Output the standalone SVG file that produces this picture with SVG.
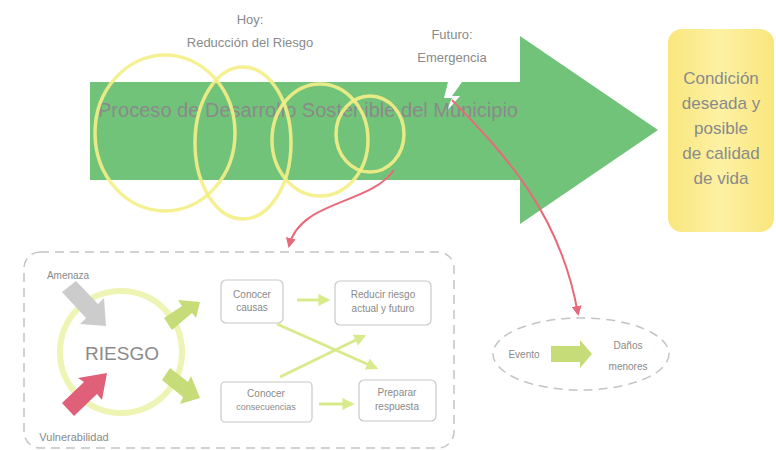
<svg xmlns="http://www.w3.org/2000/svg" width="776" height="450" viewBox="0 0 776 450">
<defs>
<style>
.t{font-family:"Liberation Sans",Arial,sans-serif;fill:#8a8a8a;text-anchor:middle}
.box{fill:#fff;stroke:#c8c8c8;stroke-width:1.2}
.ring{fill:none;stroke:#f4ee86;stroke-width:3.5;opacity:.9}
.red{fill:none;stroke:#e86a7a;stroke-width:2}
.ga{fill:none;stroke:#d8ea8c;stroke-width:3}
.dash{fill:none;stroke:#c4c4c4;stroke-width:1.5;stroke-dasharray:9 6}
</style>
<marker id="ra" viewBox="0 0 10 10" refX="8" refY="5" markerWidth="5" markerHeight="5" orient="auto"><path d="M0,0 L10,5 L0,10 z" fill="#e86a7a"/></marker>
<marker id="ga" viewBox="0 0 10 10" refX="8" refY="5" markerWidth="4" markerHeight="4" orient="auto"><path d="M0,0 L10,5 L0,10 z" fill="#d8ea8c"/></marker>
<linearGradient id="yg" x1="0" y1="0" x2="1" y2="0"><stop offset="0" stop-color="#f9e67c"/><stop offset="0.5" stop-color="#fdf1a4"/><stop offset="1" stop-color="#f9e67c"/></linearGradient>
</defs>
<rect width="776" height="450" fill="#fff"/>

<g id="process-arrow">
<path d="M90,82 L520,82 L520,36 L658,130 L520,224 L520,180 L90,180 Z" fill="#72c37a"/>
<path d="M448,82 L462,82 L452,96 L460,96 L446,112 L452,98 L444,98 Z" fill="#fff"/>
<text class="t" x="308" y="117" font-size="20" textLength="420" lengthAdjust="spacingAndGlyphs" fill="#777">Proceso de Desarrollo Sostenible del Municipio</text>
</g>

<g id="rings">
<ellipse class="ring" cx="165" cy="133" rx="70" ry="78"/>
<ellipse class="ring" cx="243" cy="143" rx="48" ry="76"/>
<ellipse class="ring" cx="320" cy="140" rx="48" ry="56"/>
<ellipse class="ring" cx="370" cy="134" rx="34" ry="38"/>
</g>

<g id="label-hoy">
<text class="t" x="250" y="24" font-size="13">Hoy:</text>
<text class="t" x="250" y="47" font-size="13">Reducción del Riesgo</text>
</g>
<g id="label-futuro">
<text class="t" x="452" y="39" font-size="13">Futuro:</text>
<text class="t" x="452" y="62" font-size="13">Emergencia</text>
</g>

<g id="goal">
<rect x="668" y="29" width="106" height="203" rx="14" fill="url(#yg)"/>
<text class="t" x="721" y="84" font-size="17" fill="#858575">Condición</text>
<text class="t" x="721" y="109" font-size="17" fill="#858575">deseada y</text>
<text class="t" x="721" y="134" font-size="17" fill="#858575">posible</text>
<text class="t" x="721" y="159" font-size="17" fill="#858575">de calidad</text>
<text class="t" x="721" y="184" font-size="17" fill="#858575">de vida</text>
</g>

<g id="risk-panel">
<rect class="dash" x="24" y="252" width="430" height="196" rx="16"/>
<circle cx="121" cy="352" r="61" fill="none" stroke="#eef4b4" stroke-width="6"/>
<text class="t" x="122" y="360" font-size="19" fill="#888">RIESGO</text>
<text class="t" x="68" y="279" font-size="10">Amenaza</text>
<text class="t" x="74" y="441" font-size="11">Vulnerabilidad</text>
<path d="M62,292 L76,281 L98,304 L104,298 L106,326 L80,324 L86,318 Z" fill="#cccccc"/>
<path d="M62,403 L84,382 L78,378 L107,373 L102,400 L97,394 L74,416 Z" fill="#e0607a"/>
<path d="M164,318 L182,306 L178,300 L200,302 L196,318 L192,313 L172,330 Z" fill="#c6dc78"/>
<path d="M162,380 L170,368 L188,382 L191,376 L200,398 L180,404 L183,397 Z" fill="#c6dc78"/>
</g>

<g id="conocer-causas">
<rect class="box" x="221" y="280" width="62" height="43" rx="5"/>
<text class="t" x="252" y="298" font-size="10">Conocer</text>
<text class="t" x="252" y="311" font-size="10">causas</text>
</g>
<g id="reducir">
<rect class="box" x="335" y="281" width="96" height="44" rx="5"/>
<text class="t" x="383" y="298" font-size="10">Reducir riesgo</text>
<text class="t" x="383" y="312" font-size="10">actual y futuro</text>
</g>
<g id="conocer-consecuencias">
<rect class="box" x="221" y="382" width="91" height="40" rx="4"/>
<text class="t" x="266" y="397" font-size="10">Conocer</text>
<text class="t" x="266" y="410" font-size="9">consecuencias</text>
</g>
<g id="preparar">
<rect class="box" x="359" y="380" width="77" height="41" rx="5"/>
<text class="t" x="397" y="396" font-size="10">Preparar</text>
<text class="t" x="397" y="410" font-size="10">respuesta</text>
</g>

<g id="evento-panel">
<ellipse class="dash" cx="581" cy="354" rx="88" ry="36"/>
<text class="t" x="524" y="358" font-size="10">Evento</text>
<text class="t" x="628" y="349" font-size="10">Daños</text>
<text class="t" x="628" y="370" font-size="10">menores</text>
<path d="M551,346 L580,346 L580,340 L592,354 L580,368 L580,362 L551,362 Z" fill="#c6dc78"/>
</g>

<g id="connectors">
<path class="red" d="M452,100 C500,150 560,210 578,314" marker-end="url(#ra)"/>
<path class="red" d="M394,170 C370,205 300,200 289,246" marker-end="url(#ra)"/>
<path class="ga" d="M297,300 L328,300" marker-end="url(#ga)"/>
<path class="ga" d="M319,404 L352,404" marker-end="url(#ga)"/>
<path class="ga" d="M277,324 L376,368" marker-end="url(#ga)"/>
<path class="ga" d="M280,377 L364,336" marker-end="url(#ga)"/>
</g>
</svg>
